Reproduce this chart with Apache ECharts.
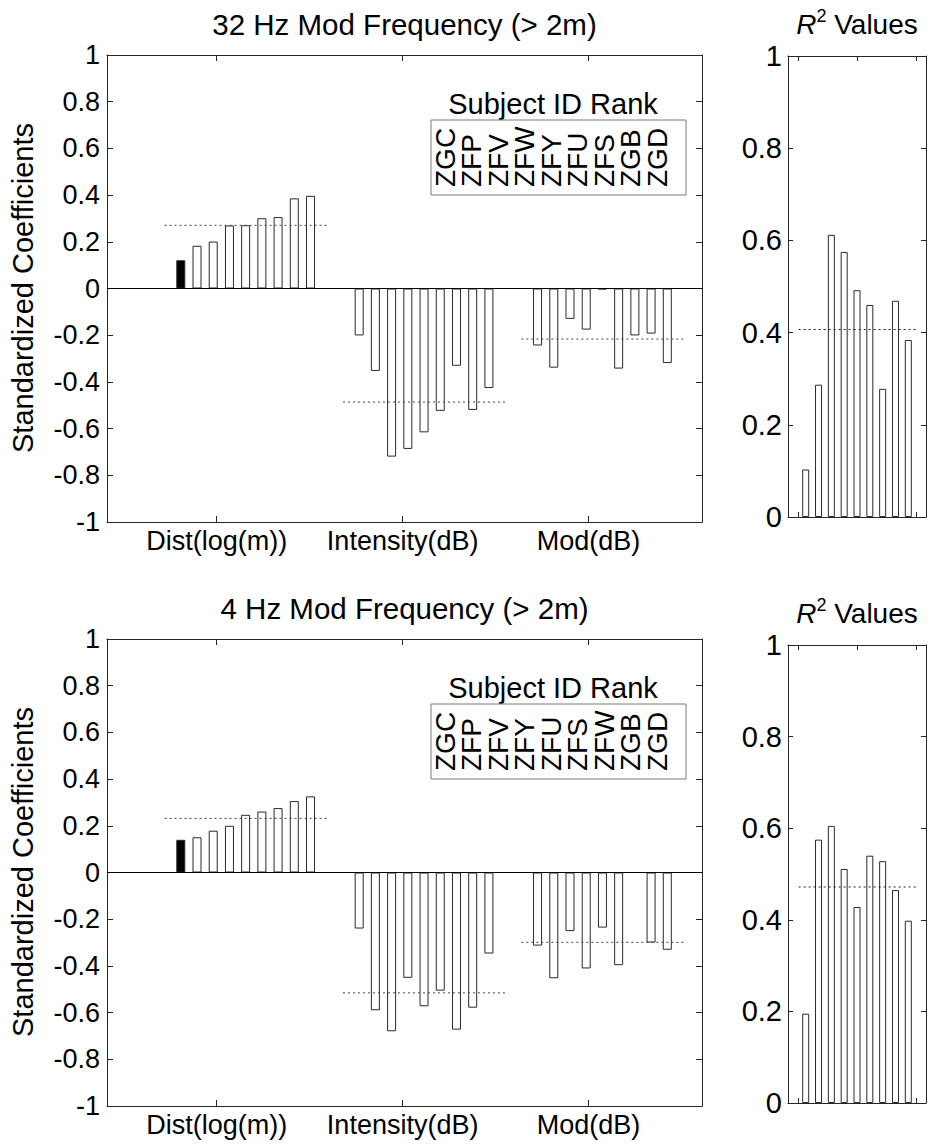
<!DOCTYPE html>
<html>
<head>
<meta charset="utf-8">
<script src="https://cdn.jsdelivr.net/npm/echarts@6/dist/echarts.min.js"></script>
<style>
  html, body { margin: 0; padding: 0; background: #fff; }
  #main { width: 928px; height: 1147px; }
</style>
</head>
<body>
<div id="main"></div>
<script>
// regressors on the x axis of the coefficient panels
var factors = ['Dist(log(m))', 'Intensity(dB)', 'Mod(dB)'];

// subject order (rank) shown in the legend box of each panel
var subjects32 = ['ZGC', 'ZFP', 'ZFV', 'ZFW', 'ZFY', 'ZFU', 'ZFS', 'ZGB', 'ZGD'];
var subjects4 = ['ZGC', 'ZFP', 'ZFV', 'ZFY', 'ZFU', 'ZFS', 'ZFW', 'ZGB', 'ZGD'];

// 32 Hz standardized coefficients, one value per subject
var dist32 = [0.121, 0.183, 0.201, 0.270, 0.271, 0.301, 0.306, 0.386, 0.397];
var inten32 = [-0.201, -0.353, -0.720, -0.687, -0.616, -0.524, -0.331, -0.520, -0.426];
var mod32 = [-0.244, -0.339, -0.130, -0.176, -0.004, -0.343, -0.201, -0.193, -0.319];
var r2_32 = [0.103, 0.287, 0.612, 0.575, 0.492, 0.460, 0.278, 0.469, 0.384];

// 4 Hz standardized coefficients
var dist4 = [0.140, 0.151, 0.179, 0.200, 0.247, 0.261, 0.276, 0.306, 0.326];
var inten4 = [-0.240, -0.590, -0.680, -0.451, -0.573, -0.506, -0.673, -0.579, -0.347];
var mod4 = [-0.313, -0.453, -0.251, -0.411, -0.236, -0.397, 0.000, -0.300, -0.331];
var r2_4 = [0.195, 0.575, 0.605, 0.511, 0.428, 0.540, 0.528, 0.465, 0.398];

var FONT = "'Liberation Sans', Arial, sans-serif";
var AXIS = '#262626';

// x ranges (bar slots for the bars, factor index for the labels)
var barMin = -3.55, barMax = 33.14;
var catMin = 0.41, catMax = 3.61;
var r2Min = -0.38, r2Max = 10.38;
var r2Ticks = [0.45, 5, 9.65];

var option = {
  animation: false,
  grid: [],
  xAxis: [],
  yAxis: [],
  series: [],
  graphic: []
};

function mean(a) {
  return a.reduce(function (s, v) { return s + v; }, 0) / a.length;
}

function frameAxis(extra) {
  var base = {
    type: 'value',
    axisLine: { show: true, onZero: false, lineStyle: { color: AXIS, width: 1 } },
    axisTick: { show: true, inside: true, length: 6, lineStyle: { color: AXIS } },
    axisLabel: { show: false },
    splitLine: { show: false }
  };
  return echarts.util.merge(base, extra, true);
}

function addText(x, y, text, size, rot, align) {
  option.graphic.push({
    type: 'text',
    x: x, y: y,
    rotation: rot || 0,
    silent: true,
    style: {
      text: text,
      fontSize: size,
      fontFamily: FONT,
      fill: '#000',
      align: align || 'center',
      verticalAlign: 'middle'
    }
  });
}

function addCoefPanel(top, title, subjects, groups) {
  var gi = option.grid.length;
  var xi = option.xAxis.length;
  var yi = option.yAxis.length;
  option.grid.push({ left: 107, top: top, width: 595, height: 467 });

  var topTicks = [1, 2, 3].map(function (c) {
    return barMin + (c - catMin) / (catMax - catMin) * (barMax - barMin);
  });

  option.xAxis.push(frameAxis({
    gridIndex: gi, position: 'bottom', min: catMin, max: catMax,
    axisTick: { customValues: [1, 2, 3] },
    axisLabel: {
      show: true, customValues: [1, 2, 3], margin: 5,
      fontSize: 27, fontFamily: FONT, color: '#000',
      formatter: function (v) { return factors[Math.round(v) - 1]; }
    }
  }));
  option.xAxis.push(frameAxis({
    gridIndex: gi, position: 'top', min: barMin, max: barMax,
    axisTick: { customValues: topTicks }
  }));
  option.yAxis.push(frameAxis({
    gridIndex: gi, position: 'left', min: -1, max: 1, interval: 0.2,
    axisLabel: { show: true, margin: 7, fontSize: 27, fontFamily: FONT, color: '#000' }
  }));
  option.yAxis.push(frameAxis({
    gridIndex: gi, position: 'right', min: -1, max: 1, interval: 0.2
  }));

  var data = [];
  groups.forEach(function (vals, g) {
    vals.forEach(function (v, i) {
      var item = { value: [g * 11 + i + 1, v] };
      if (g === 0 && i === 0) item.itemStyle = { color: '#000' };
      data.push(item);
    });
  });
  option.series.push({
    type: 'bar',
    xAxisIndex: xi + 1, yAxisIndex: yi,
    barWidth: 9,
    data: data,
    itemStyle: { color: '#fff', borderColor: '#2a2a2a', borderWidth: 1 },
    markLine: {
      silent: true, symbol: 'none', label: { show: false },
      lineStyle: { type: 'solid', color: '#000', width: 1 },
      data: [{ yAxis: 0 }]
    }
  });
  groups.forEach(function (vals, g) {
    var m = mean(vals), c = g * 11 + 5;
    option.series.push({
      type: 'line', xAxisIndex: xi + 1, yAxisIndex: yi, z: 3,
      symbol: 'none', silent: true,
      lineStyle: { type: [2, 3], width: 1, color: '#444' },
      data: [[c - 5, m], [c + 5, m]]
    });
  });

  addText(404.5, top - 31, title, 29.5);
  addText(23, top + 233, 'Standardized Coefficients', 29, Math.PI / 2);

  // legend box with the subject rank
  addText(553, top + 49, 'Subject ID Rank', 29);
  option.graphic.push({
    type: 'rect', silent: true, z: 10,
    shape: { x: 431, y: top + 65, width: 255, height: 75 },
    style: { fill: '#fff', stroke: '#7a7a7a', lineWidth: 1 }
  });
  subjects.forEach(function (s, i) {
    option.graphic.push({
      type: 'text', silent: true, z: 11,
      x: 445 + 26.5 * i, y: top + 132,
      rotation: Math.PI / 2,
      style: {
        text: s, fontSize: 28, fontFamily: FONT, fill: '#000',
        align: 'left', verticalAlign: 'middle'
      }
    });
  });
}

function addR2Panel(top, height, values, titleY) {
  var gi = option.grid.length;
  var xi = option.xAxis.length;
  var yi = option.yAxis.length;
  option.grid.push({ left: 788, top: top, width: 138, height: height });

  option.xAxis.push(frameAxis({
    gridIndex: gi, position: 'bottom', min: r2Min, max: r2Max,
    axisTick: { length: 5, customValues: r2Ticks }
  }));
  option.xAxis.push(frameAxis({
    gridIndex: gi, position: 'top', min: r2Min, max: r2Max,
    axisTick: { length: 5, customValues: r2Ticks }
  }));
  option.yAxis.push(frameAxis({
    gridIndex: gi, position: 'left', min: 0, max: 1, interval: 0.2,
    axisTick: { length: 5 },
    axisLabel: { show: true, margin: 6, fontSize: 29, fontFamily: FONT, color: '#000' }
  }));
  option.yAxis.push(frameAxis({
    gridIndex: gi, position: 'right', min: 0, max: 1, interval: 0.2,
    axisTick: { length: 5 }
  }));

  option.series.push({
    type: 'bar', xAxisIndex: xi, yAxisIndex: yi,
    barWidth: 7,
    data: values.map(function (v, i) { return [i + 1, v]; }),
    itemStyle: { color: '#fff', borderColor: '#2a2a2a', borderWidth: 1 }
  });
  var m = mean(values);
  option.series.push({
    type: 'line', xAxisIndex: xi, yAxisIndex: yi, z: 3,
    symbol: 'none', silent: true,
    lineStyle: { type: [2, 3], width: 1, color: '#222' },
    data: [[r2Ticks[0], m], [r2Ticks[2], m]]
  });

  option.graphic.push({
    type: 'text', silent: true,
    x: 857, y: titleY,
    style: {
      text: '{i|R}{s|2}{n| Values}',
      align: 'center', verticalAlign: 'middle',
      fontFamily: FONT, fill: '#000',
      rich: {
        i: { fontSize: 28, fontStyle: 'italic', fontFamily: FONT, lineHeight: 34 },
        s: { fontSize: 18, fontFamily: FONT, lineHeight: 34, verticalAlign: 'top' },
        n: { fontSize: 28, fontFamily: FONT, lineHeight: 34 }
      }
    }
  });
}

addCoefPanel(55, '32 Hz Mod Frequency (> 2m)', subjects32, [dist32, inten32, mod32]);
addR2Panel(56, 461, r2_32, 24);
addCoefPanel(639, '4 Hz Mod Frequency (> 2m)', subjects4, [dist4, inten4, mod4]);
addR2Panel(645, 458, r2_4, 613);

var chart = echarts.init(document.getElementById('main'), null, { renderer: 'svg' });
chart.setOption(option);
</script>
</body>
</html>
